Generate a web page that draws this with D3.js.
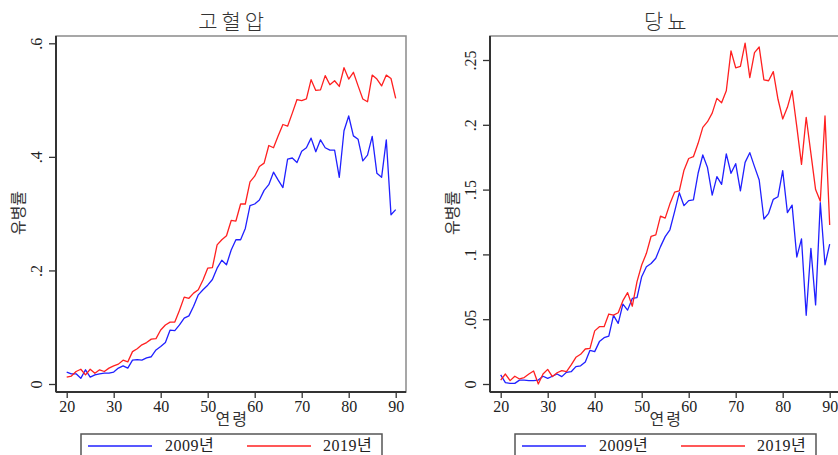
<!DOCTYPE html>
<html>
<head>
    <meta charset="utf-8">
    <title>고혈압 / 당뇨 유병률</title>
    <style>
        body {
            margin: 0;
            background: #ffffff;
        }

        text {
            font-family: "Liberation Serif", "Noto Sans CJK KR", serif;
            fill: #222222;
        }

        .kor {
            font-family: "Noto Sans CJK KR", "Noto Sans", sans-serif;
            fill: #333333;
        }
    </style>
    <script src="https://d3js.org/d3.v7.min.js"></script>
</head>
<body>

<script type="application/javascript">
  // 연령 20..90
  var ages = [20, 21, 22, 23, 24, 25, 26, 27, 28, 29,
              30, 31, 32, 33, 34, 35, 36, 37, 38, 39,
              40, 41, 42, 43, 44, 45, 46, 47, 48, 49,
              50, 51, 52, 53, 54, 55, 56, 57, 58, 59,
              60, 61, 62, 63, 64, 65, 66, 67, 68, 69,
              70, 71, 72, 73, 74, 75, 76, 77, 78, 79,
              80, 81, 82, 83, 84, 85, 86, 87, 88, 89, 90];

  // 고혈압 유병률
  var htn2009 = [0.021, 0.018, 0.018, 0.010, 0.025, 0.012, 0.016, 0.018, 0.019, 0.019,
                 0.021, 0.028, 0.032, 0.028, 0.042, 0.043, 0.042, 0.046, 0.048, 0.060,
                 0.066, 0.073, 0.095, 0.094, 0.104, 0.116, 0.120, 0.137, 0.157, 0.166,
                 0.174, 0.184, 0.204, 0.218, 0.210, 0.236, 0.254, 0.254, 0.274, 0.314,
                 0.317, 0.324, 0.341, 0.351, 0.373, 0.359, 0.346, 0.396, 0.398, 0.390,
                 0.410, 0.416, 0.433, 0.409, 0.430, 0.416, 0.412, 0.412, 0.364, 0.446,
                 0.472, 0.437, 0.431, 0.393, 0.403, 0.436, 0.371, 0.364, 0.430, 0.298, 0.307];
  var htn2019 = [0.012, 0.014, 0.022, 0.026, 0.016, 0.026, 0.019, 0.025, 0.022, 0.028,
                 0.032, 0.035, 0.042, 0.039, 0.057, 0.062, 0.069, 0.073, 0.079, 0.080,
                 0.095, 0.104, 0.109, 0.109, 0.130, 0.153, 0.151, 0.160, 0.166, 0.183,
                 0.204, 0.205, 0.245, 0.254, 0.261, 0.288, 0.287, 0.317, 0.317, 0.356,
                 0.366, 0.383, 0.389, 0.420, 0.416, 0.437, 0.457, 0.454, 0.477, 0.501,
                 0.499, 0.502, 0.536, 0.517, 0.518, 0.543, 0.527, 0.534, 0.524, 0.557,
                 0.537, 0.549, 0.525, 0.502, 0.497, 0.544, 0.537, 0.525, 0.544, 0.538, 0.503];

  // 당뇨 유병률
  var dm2009 = [0.007, 0.001, 0.0005, 0.0005, 0.003, 0.003, 0.0026, 0.0026, 0.003, 0.006,
                0.0044, 0.006, 0.0077, 0.0057, 0.009, 0.0095, 0.0134, 0.014, 0.017, 0.026,
                0.025, 0.0327, 0.0357, 0.037, 0.053, 0.0468, 0.0617, 0.057, 0.066, 0.0666,
                0.0828, 0.0905, 0.093, 0.097, 0.106, 0.1137, 0.119, 0.133, 0.1476, 0.1376,
                0.1415, 0.142, 0.1626, 0.1767, 0.167, 0.1458, 0.160, 0.154, 0.1775, 0.1626,
                0.170, 0.149, 0.171, 0.1785, 0.1677, 0.1574, 0.1273, 0.1317, 0.1425, 0.1445,
                0.1646, 0.1322, 0.138, 0.098, 0.112, 0.053, 0.1047, 0.061, 0.140, 0.092, 0.108];
  var dm2019 = [0.003, 0.0077, 0.0026, 0.006, 0.0039, 0.005, 0.0077, 0.010, 0.000, 0.0077,
                0.0113, 0.0057, 0.0087, 0.0103, 0.0095, 0.0147, 0.0206, 0.0229, 0.027, 0.0275,
                0.041, 0.0442, 0.0442, 0.054, 0.0532, 0.055, 0.0643, 0.0705, 0.060, 0.079,
                0.0918, 0.1008, 0.114, 0.115, 0.1296, 0.128, 0.139, 0.148, 0.149, 0.165,
                0.174, 0.1754, 0.1857, 0.198, 0.2024, 0.209, 0.2204, 0.217, 0.2263, 0.257,
                0.244, 0.245, 0.263, 0.2364, 0.2557, 0.260, 0.2346, 0.234, 0.241, 0.2197,
                0.2045, 0.2135, 0.2263, 0.1986, 0.1695, 0.2058, 0.178, 0.150, 0.141, 0.2068, 0.1227];

  var xTicks = [20, 30, 40, 50, 60, 70, 80, 90];
  var htnTicks = [0, 0.2, 0.4, 0.6];
  var htnTickLabels = ["0", ".2", ".4", ".6"];
  var dmTicks = [0, 0.05, 0.1, 0.15, 0.2, 0.25];
  var dmTickLabels = ["0", ".05", ".1", ".15", ".2", ".25"];
  var seriesNames = ["2009년", "2019년"];
  var seriesColors = ["#2020ff", "#ff2020"];

  var w = 838;
  var h = 455;
  var svg = d3.select("body")
              .append("svg")
              .attr("width", w)
              .attr("height", h);

  function drawPanel(p) {
    var g = svg.append("g").attr("transform", "translate(" + p.left + ",0)");

    var xscale = d3.scaleLinear()
                   .domain([20, 90])
                   .range([10.7, 339.7]);
    var yscale = d3.scaleLinear()
                   .domain([0, p.yMax])
                   .range([384, p.yMaxPx]);

    // plot box (top/right lighter)
    g.append("rect")
     .attr("x", 0)
     .attr("y", 36)
     .attr("width", p.boxW)
     .attr("height", 356)
     .attr("fill", "none")
     .attr("stroke", "#8a8a8a")
     .attr("stroke-width", 1.5);

    // x axis
    var xAxis = g.append("g")
                 .attr("transform", "translate(0,392)")
                 .call(d3.axisBottom(xscale)
                         .tickValues(xTicks)
                         .tickSize(6)
                         .tickPadding(3)
                         .tickSizeOuter(0));
    xAxis.select(".domain").remove();
    xAxis.append("line")
         .attr("x1", 0).attr("x2", p.boxW)
         .attr("stroke", "#333").attr("stroke-width", 2);
    xAxis.selectAll(".tick line").attr("stroke", "#333").attr("stroke-width", 1.3);
    xAxis.selectAll(".tick text")
         .attr("font-size", 16)
         .attr("font-family", "Liberation Serif")
         .attr("fill", "#222");

    // y axis
    var yAxis = g.append("g")
                 .call(d3.axisLeft(yscale)
                         .tickValues(p.ticks)
                         .tickFormat(function (d, i) { return p.tickLabels[i]; })
                         .tickSize(7)
                         .tickSizeOuter(0));
    yAxis.select(".domain").remove();
    yAxis.append("line")
         .attr("y1", 36).attr("y2", 392)
         .attr("stroke", "#333").attr("stroke-width", 2);
    yAxis.selectAll(".tick line").attr("stroke", "#333").attr("stroke-width", 1.3);
    yAxis.selectAll(".tick text")
         .attr("x", null).attr("dy", null)
         .attr("transform", "translate(" + (-p.tickLabelOff) + ",0) rotate(-90)")
         .attr("text-anchor", "middle")
         .attr("font-size", 16)
         .attr("font-family", "Liberation Serif")
         .attr("fill", "#222");

    // lines
    var line = d3.line()
                 .x(function (d, i) { return xscale(ages[i]); })
                 .y(function (d) { return yscale(d); });
    p.series.forEach(function (s, k) {
      g.append("path")
       .datum(s)
       .attr("d", line)
       .attr("fill", "none")
       .attr("stroke", seriesColors[k])
       .attr("stroke-width", 1.3)
       .attr("stroke-linejoin", "round");
    });

    // titles
    g.append("text")
     .attr("class", "kor")
     .attr("x", xscale(55) + 2)
     .attr("y", 29)
     .attr("text-anchor", "middle")
     .attr("font-size", 21)
     .attr("letter-spacing", 4)
     .attr("font-weight", 300)
     .text(p.title);
    g.append("text")
     .attr("class", "kor")
     .attr("x", xscale(55) + 1)
     .attr("y", 425)
     .attr("text-anchor", "middle")
     .attr("font-size", 16)
     .attr("letter-spacing", 2)
     .text("연령");
    g.append("text")
     .attr("class", "kor")
     .attr("transform", "translate(" + (-p.yTitleOff) + ",213) rotate(-90)")
     .attr("text-anchor", "middle")
     .attr("font-size", 16)
     .text("유병률");

    // legend
    var lg = g.append("g").attr("transform", "translate(" + p.legendX + ",434)");
    lg.append("rect")
      .attr("x", 0).attr("y", 0)
      .attr("width", 301).attr("height", 40)
      .attr("fill", "#fff")
      .attr("stroke", "#555")
      .attr("stroke-width", 1.5);
    seriesNames.forEach(function (name, k) {
      lg.append("line")
        .attr("x1", 7 + k * 159).attr("x2", 71 + k * 159)
        .attr("y1", 12).attr("y2", 12)
        .attr("stroke", seriesColors[k])
        .attr("stroke-width", 1.3);
      lg.append("text")
        .attr("x", 84 + k * 158)
        .attr("y", 17)
        .attr("font-size", 16)
        .attr("letter-spacing", 0.5)
        .text(name);
    });
  }

  drawPanel({
    left: 56, boxW: 350, yMax: 0.6, yMaxPx: 43.3,
    ticks: htnTicks, tickLabels: htnTickLabels,
    tickLabelOff: 14, yTitleOff: 32,
    series: [htn2009, htn2019], title: "고혈압", legendX: 25
  });
  drawPanel({
    left: 490, boxW: 360, yMax: 0.25, yMaxPx: 60,
    ticks: dmTicks, tickLabels: dmTickLabels,
    tickLabelOff: 14, yTitleOff: 32,
    series: [dm2009, dm2019], title: "당뇨", legendX: 25
  });
</script>
</body>
</html>
